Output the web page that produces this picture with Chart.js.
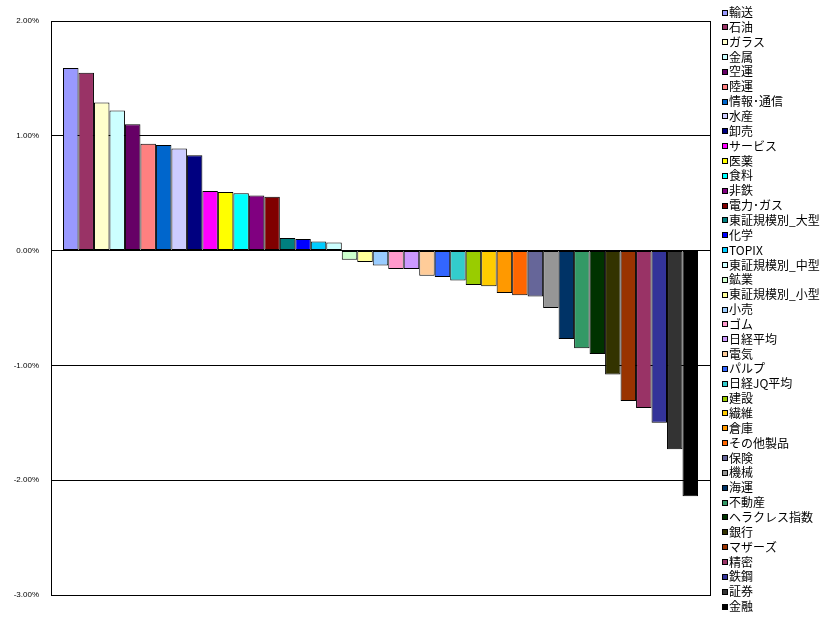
<!DOCTYPE html>
<html>
<head>
<meta charset="utf-8">
<script src="https://cdn.jsdelivr.net/npm/chart.js@4/dist/chart.umd.min.js"></script>
<style>
html,body{margin:0;padding:0;background:#fff;}
#wrap{width:835px;height:629px;}
</style>
</head>
<body>
<div id="wrap"><canvas id="c" width="835" height="629"></canvas></div>
<script>
const categories = ['輸送','石油','ガラス','金属','空運','陸運','情報･通信','水産','卸売','サービス','医薬','食料','非鉄','電力･ガス','東証規模別_大型','化学','TOPIX','東証規模別_中型','鉱業','東証規模別_小型','小売','ゴム','日経平均','電気','パルプ','日経JQ平均','建設','繊維','倉庫','その他製品','保険','機械','海運','不動産','ヘラクレス指数','銀行','マザーズ','精密','鉄鋼','証券','金融'];
const values = [1.59,1.55,1.29,1.22,1.10,0.93,0.92,0.89,0.83,0.52,0.51,0.50,0.48,0.47,0.11,0.10,0.08,0.07,-0.08,-0.10,-0.13,-0.16,-0.16,-0.22,-0.23,-0.26,-0.30,-0.31,-0.37,-0.39,-0.40,-0.50,-0.77,-0.85,-0.90,-1.08,-1.31,-1.37,-1.50,-1.73,-2.14];
const colors = ['#9999FF','#993366','#FFFFCC','#CCFFFF','#660066','#FF8080','#0066CC','#CCCCFF','#000080','#FF00FF','#FFFF00','#00FFFF','#800080','#800000','#008080','#0000FF','#00CCFF','#CCFFFF','#CCFFCC','#FFFF99','#99CCFF','#FF99CC','#CC99FF','#FFCC99','#3366FF','#33CCCC','#99CC00','#FFCC00','#FF9900','#FF6600','#666699','#969696','#003366','#339966','#003300','#333300','#993300','#993366','#333399','#333333','#000000'];
const yTicks = [-3,-2,-1,0,1,2];

const datasets = categories.map((name,i)=>({
  label: name,
  data: [values[i]],
  backgroundColor: colors[i],
  borderColor: '#000000',
  borderWidth: 1,
  borderSkipped: false,
  categoryPercentage: 0.9636,
  barPercentage: 1.0
}));

const frame = {
  id: 'frame',
  afterDatasetsDraw(chart){
    const a = chart.chartArea, ctx = chart.ctx;
    ctx.save();
    ctx.strokeStyle = '#000';
    ctx.lineWidth = 1;
    ctx.strokeRect(Math.round(a.left)+0.5, Math.round(a.top)+0.5, Math.round(a.right-a.left), Math.round(a.bottom-a.top));
    ctx.restore();
  }
};

const sideLegend = {
  id: 'sideLegend',
  afterDraw(chart){
    const ctx = chart.ctx;
    ctx.save();
    ctx.font = '12px "Noto Sans CJK JP", sans-serif';
    ctx.textBaseline = 'middle';
    ctx.textAlign = 'left';
    chart.data.datasets.forEach((ds,i)=>{
      const cy = 12.5 + i*14.85;
      const by = Math.round(cy - 3);
      ctx.fillStyle = ds.backgroundColor;
      ctx.fillRect(722, by, 6, 6);
      ctx.strokeStyle = '#000';
      ctx.lineWidth = 1;
      ctx.strokeRect(722.5, by+0.5, 5, 5);
      ctx.fillStyle = '#000';
      ctx.fillText(ds.label, 729, cy);
    });
    ctx.restore();
  }
};

new Chart(document.getElementById('c'), {
  type: 'bar',
  data: { labels: [''], datasets },
  options: {
    responsive: false,
    animation: false,
    layout: { padding: { left: 0, right: 125, top: 21, bottom: 34 } },
    plugins: { legend: { display: false }, tooltip: { enabled: false } },
    scales: {
      x: { display: false },
      y: {
        min: -3, max: 2,
        afterFit(scale){ scale.width = 51; },
        afterBuildTicks(scale){ scale.ticks = yTicks.map(v=>({value:v})); },
        border: { display: true, color: '#000', width: 1 },
        grid: { color: '#000', lineWidth: 1, drawTicks: false },
        ticks: {
          padding: 12,
          color: '#000',
          font: { family: '"Liberation Sans", Arial, sans-serif', size: 8 },
          callback: v => v.toFixed(2) + '%'
        }
      }
    }
  },
  plugins: [frame, sideLegend]
});
</script>
</body>
</html>
